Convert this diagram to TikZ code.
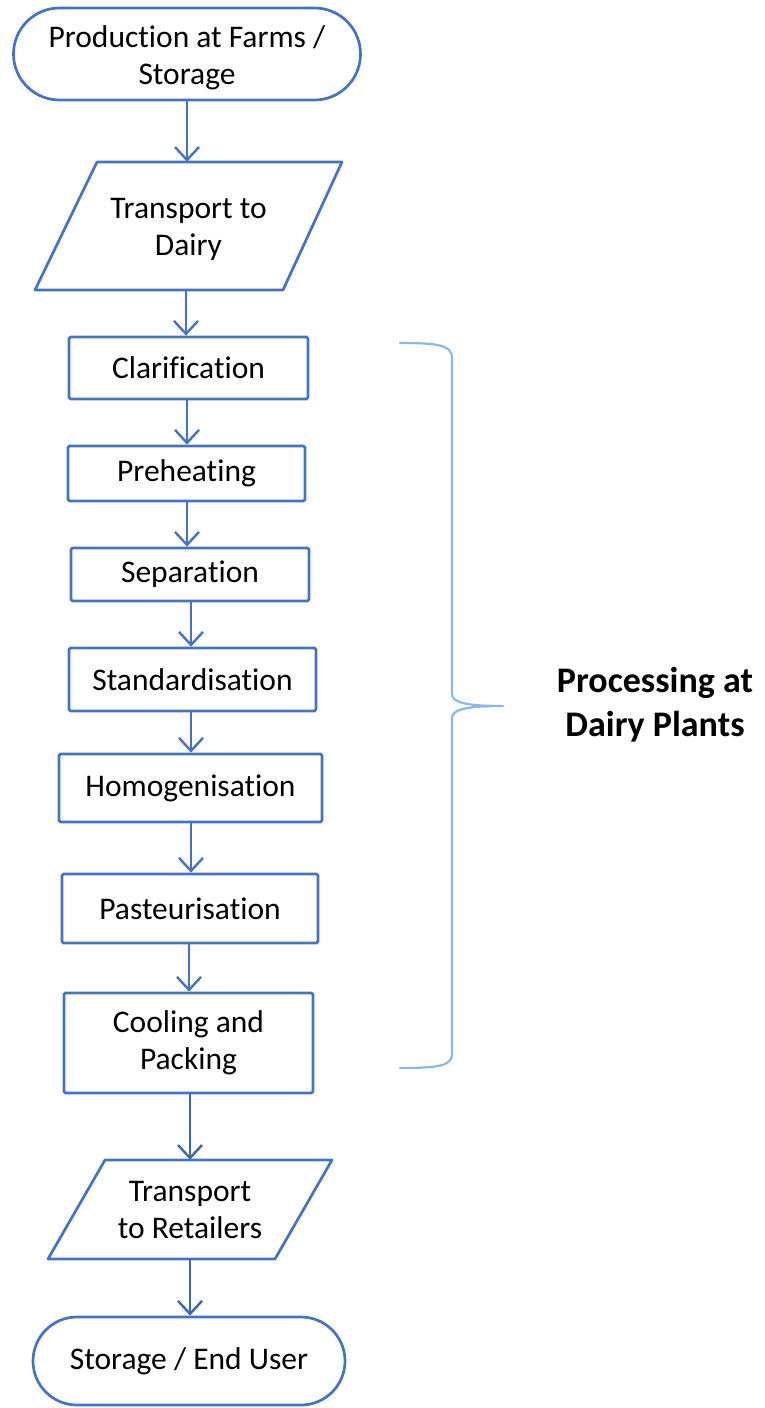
\documentclass[tikz,border=0pt]{standalone}
\usepackage{fontspec}
\setmainfont{Carlito}[RawFeature={-liga;-clig;-dlig;-calt}]
\usetikzlibrary{arrows.meta,calc}
\definecolor{boxblue}{RGB}{68,114,196}
\definecolor{darkarr}{RGB}{62,104,160}
\definecolor{bracecol}{RGB}{140,184,228}
\newcommand{\nti}{t\kern0pt i}
\newcommand{\nfi}{f\kern0pt i}
\tikzset{
  txt/.style={font=\fontsize{31.5}{37}\selectfont, align=center, inner sep=0pt},
  stepbox/.style={txt, draw=boxblue, line width=2.7pt, rectangle, rounded corners=1.5pt},
  term/.style={txt, draw=boxblue, line width=2.7pt, rectangle},
  io/.style={txt},
  arr/.style={draw=boxblue, line width=2.4pt, -{Straight Barb[length=13pt,width=24pt,line width=2.4pt]}},
  arrd/.style={arr, draw=darkarr},
}
\begin{document}
\begin{tikzpicture}[x=1pt,y=-1pt]
\useasboundingbox (0,0) rectangle (765,1408);
% terminals and boxes
\node[term, minimum width=347pt, minimum height=92pt, rounded corners=46pt] (p1) at (187,54) {};
\node[txt] (p1t) at (187,58) {Production at Farms /\\Storage};
\node[io, minimum width=245pt, minimum height=128pt] (t1) at (188.5,229) {Transport to\\Dairy};
\draw[boxblue, line width=2.7pt, line join=round] ($(t1.center)+(-91.5,-67)$) -- ($(t1.center)+(153.5,-67)$) -- ($(t1.center)+(94.5,61)$) -- ($(t1.center)+(-153.5,61)$) -- cycle;
\node[stepbox, minimum width=239pt, minimum height=62pt] (clar) at (188.5,368) {Clari\nfi cation};
\node[stepbox, minimum width=237pt, minimum height=55pt] (pre) at (186.5,473.5) {Preheating};
\node[stepbox, minimum width=238pt, minimum height=53pt] (sep) at (190,574.5) {Separa\nti on};
\node[stepbox, minimum width=247pt, minimum height=63pt] (std) at (192.5,679.5) {Standardisa\nti on};
\node[stepbox, minimum width=263pt, minimum height=68pt] (hom) at (190.5,788) {Homogenisa\nti on};
\node[stepbox, minimum width=256pt, minimum height=69pt] (past) at (190,908.5) {Pasteurisa\nti on};
\node[stepbox, minimum width=249pt, minimum height=100pt] (cool) at (188.5,1043) {Cooling and\\Packing};
\node[io, minimum width=227pt, minimum height=99pt] (t2) at (190,1209.5) {Transport\\to Retailers};
\draw[boxblue, line width=2.7pt, line join=round] ($(t2.center)+(-85,-49.5)$) -- ($(t2.center)+(142,-49.5)$) -- ($(t2.center)+(85,49.5)$) -- ($(t2.center)+(-142,49.5)$) -- cycle;
\node[term, minimum width=312pt, minimum height=88pt, rounded corners=44pt] (end) at (189,1361) {Storage / End User};
% connectors
\draw[arr] (p1.south -| 187,0) -- ($(t1.north -| 187,0)+(0,-3)$);
\draw[arr] ($(t1.south -| 186,0)+(0,-3)$) -- (clar.north -| 186,0);
\draw[arr] (clar.south -| 187,0) -- (pre.north -| 187,0);
\draw[arr] (pre.south -| 187,0) -- (sep.north -| 187,0);
\draw[arr] (sep.south -| 191,0) -- (std.north -| 191,0);
\draw[arr] (std.south -| 191,0) -- (hom.north -| 191,0);
\draw[arr] (hom.south -| 191,0) -- (past.north -| 191,0);
\draw[arr] (past.south -| 189,0) -- (cool.north -| 189,0);
\draw[arrd] (cool.south -| 190,0) -- (t2.north -| 190,0);
\draw[arrd] (t2.south -| 190,0) -- (end.north -| 190,0);
% brace
\coordinate (btop) at (400,343);
\coordinate (btip) at (503,706);
\coordinate (bbot) at (400,1068);
\draw[bracecol, line width=2.2pt, line cap=round, line join=round]
  (btop) .. controls (438,343) and (452,345) .. (452,358)
  -- (452,694) .. controls (452,703) and (468,706) .. (btip)
  .. controls (468,706) and (452,709) .. (452,718)
  -- (452,1054) .. controls (452,1066) and (438,1068) .. (bbot);
\node[font=\fontsize{36}{44}\selectfont\bfseries, align=center, inner sep=0pt] (lab) at (655,705) {Processing at\\Dairy Plants};
\end{tikzpicture}
\end{document}
